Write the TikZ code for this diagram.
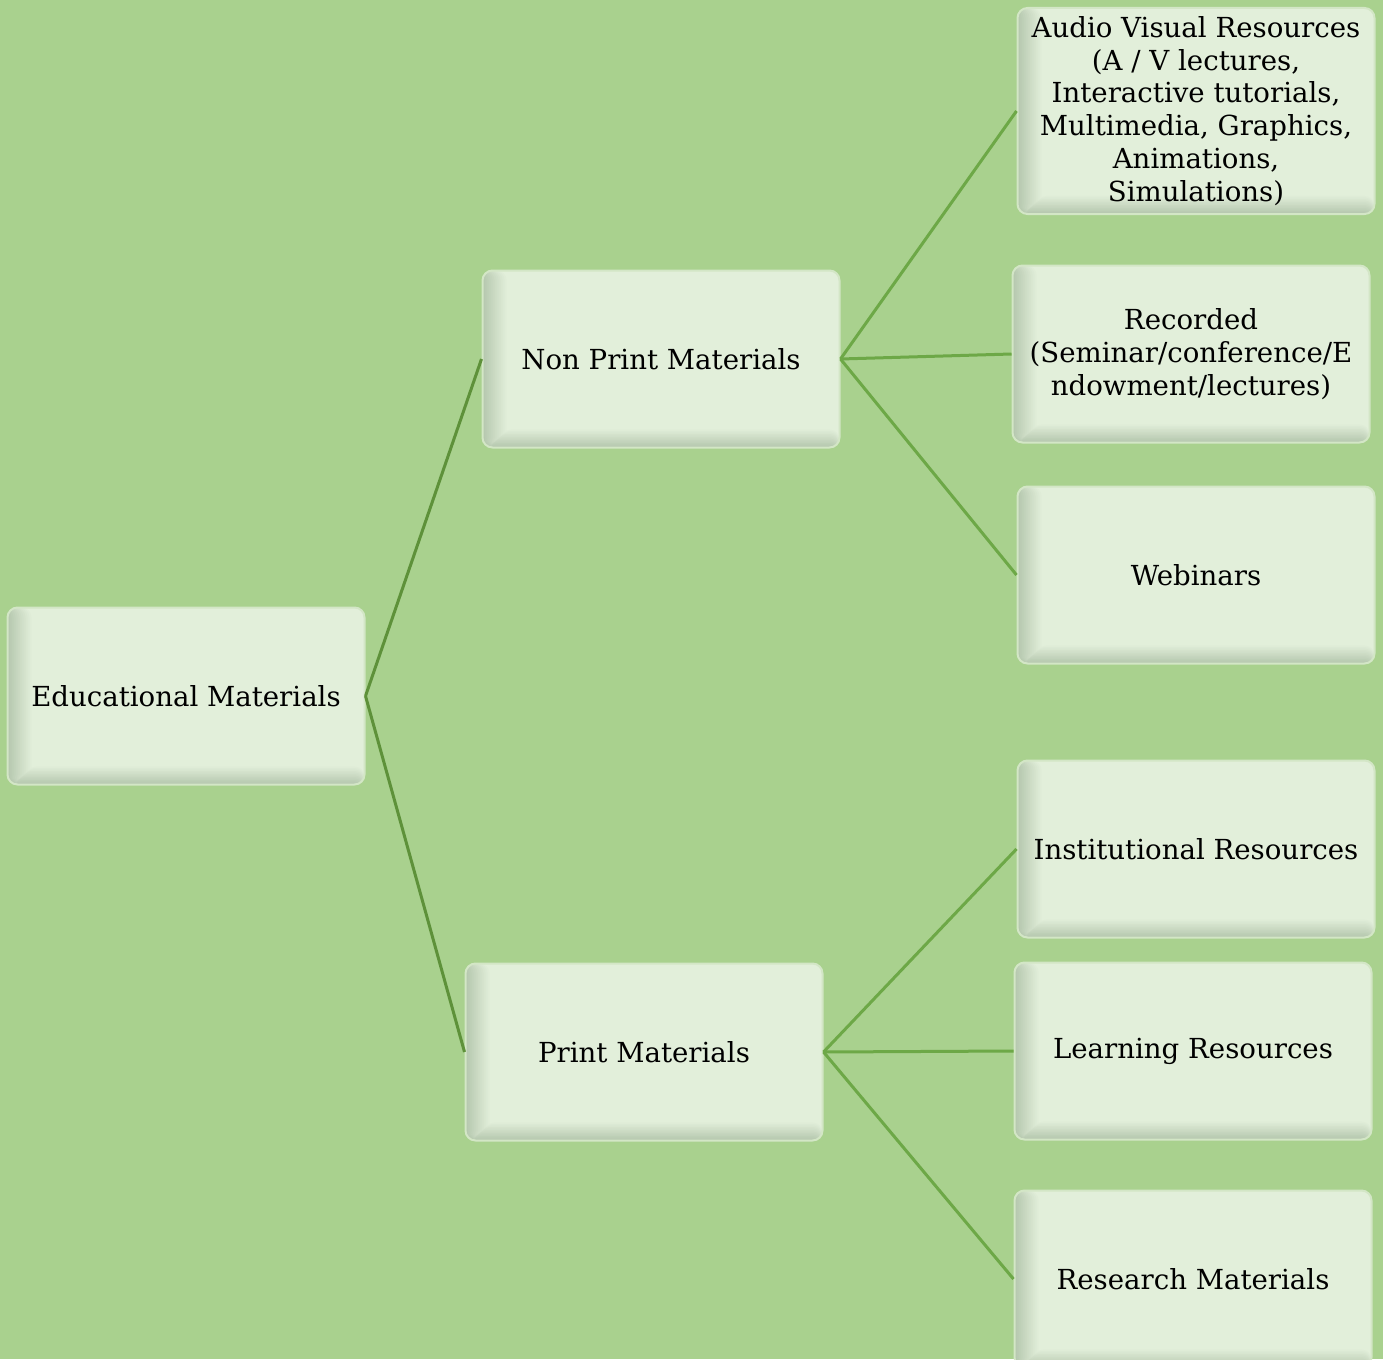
\documentclass[tikz,border=0pt]{standalone}
\usepackage{fontspec}
\setmainfont{DejaVu Serif}
\definecolor{bg}{HTML}{A9D18E}
\definecolor{boxfill}{HTML}{E2EFDA}
\definecolor{bevdark}{HTML}{B6C8AF}
\definecolor{boxedge}{HTML}{D3E6C6}
\definecolor{linedark}{HTML}{5E913A}
\definecolor{linelight}{HTML}{6DA847}
\tikzset{
  bevbox/.style={rounded corners=10pt, fill=boxfill, draw=boxedge, line width=2pt,
    minimum width=357pt, minimum height=177pt, align=center, inner sep=2pt,
    font=\fontsize{27.6}{32.8}\selectfont,
    path picture={
      \foreach \j in {12,...,1}{
        \pgfmathsetmacro{\pc}{100-(\j-1)*8.5}
        \fill[bevdark!\pc!boxfill]
          (path picture bounding box.south west) rectangle
          ([xshift=\j*2pt]path picture bounding box.north west);
      }
      \foreach \j in {12,...,1}{
        \pgfmathsetmacro{\pc}{100-(\j-1)*8.5}
        \fill[bevdark!\pc!boxfill]
          ([xshift=\j*1.6pt]path picture bounding box.south west) rectangle
          ([yshift=\j*1.5pt]path picture bounding box.south east);
      }
    }},
  conn/.style={line width=3pt},
}
\begin{document}
\begin{tikzpicture}[x=1pt,y=-1pt]
\fill[bg] (0,0) rectangle (1383,1359);
\useasboundingbox (0,0) rectangle (1383,1359);
\node[bevbox] (ed) at (186,696) {Educational Materials};
\node[bevbox] (np) at (661,359) {Non Print Materials};
\node[bevbox] (pm) at (644,1052) {Print Materials};
\node[bevbox, minimum height=206pt] (av) at (1196,111) {Audio Visual Resources\\(A / V lectures,\\Interactive tutorials,\\Multimedia, Graphics,\\Animations,\\Simulations)};
\node[bevbox] (rec) at (1191,354) {Recorded\\(Seminar/conference/E\\ndowment/lectures)};
\node[bevbox] (web) at (1196,575) {Webinars};
\node[bevbox] (inst) at (1196,849) {Institutional Resources};
\node[bevbox] (learn) at (1193,1051) {Learning Resources};
\node[bevbox] (res) at (1193,1279) {Research Materials};
\draw[conn, linedark] (ed.east) -- (np.west);
\draw[conn, linedark] (ed.east) -- (pm.west);
\draw[conn, linelight] (np.east) -- (av.west);
\draw[conn, linelight] (np.east) -- (rec.west);
\draw[conn, linelight] (np.east) -- (web.west);
\draw[conn, linelight] (pm.east) -- (inst.west);
\draw[conn, linelight] (pm.east) -- (learn.west);
\draw[conn, linelight] (pm.east) -- (res.west);
\end{tikzpicture}
\end{document}
